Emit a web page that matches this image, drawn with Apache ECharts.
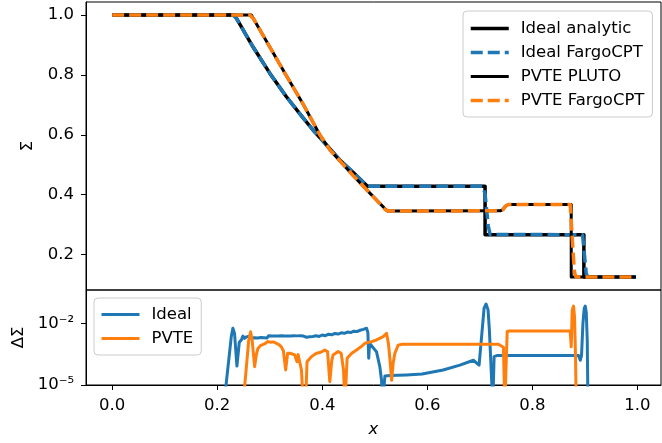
<!DOCTYPE html>
<html>
<head>
<meta charset="utf-8">
<script src="https://cdn.jsdelivr.net/npm/echarts@6/dist/echarts.min.js"></script>
<style>
  html, body { margin: 0; padding: 0; background: #fff; }
  #chart { width: 662px; height: 443px; }
</style>
</head>
<body>
<div id="chart"></div>
<script>
// ---- Upper panel: surface density profiles ----
const idealAnalyticX = [0.0, 0.2331, 0.2680, 0.3000, 0.3317, 0.3600, 0.3824, 0.4100, 0.4333, 0.4600, 0.4860, 0.7099, 0.7099, 0.8980, 0.8980, 0.997];
const idealAnalyticSigma = [1.0, 1.0, 0.894, 0.806, 0.727, 0.664, 0.616, 0.562, 0.516, 0.472, 0.428, 0.428, 0.266, 0.266, 0.125, 0.125];

const idealFargoX = [0.0, 0.2300, 0.2370, 0.2680, 0.3000, 0.3317, 0.3600, 0.3824, 0.4100, 0.4333, 0.4600, 0.4820, 0.4900, 0.7060, 0.7100, 0.7160, 0.7195, 0.8955, 0.8990, 0.9025, 0.9055, 0.997];
const idealFargoSigma = [1.0, 1.0, 0.988, 0.894, 0.806, 0.727, 0.664, 0.616, 0.562, 0.516, 0.472, 0.434, 0.428, 0.428, 0.400, 0.295, 0.267, 0.266, 0.200, 0.135, 0.125, 0.125];

const pvtePlutoX = [0.0, 0.2649, 0.2998, 0.3317, 0.3634, 0.3952, 0.4143, 0.4587, 0.4906, 0.5236, 0.7385, 0.7440, 0.7490, 0.7544, 0.8739, 0.8739, 0.997];
const pvtePlutoSigma = [1.0, 1.0, 0.894, 0.797, 0.703, 0.600, 0.550, 0.464, 0.405, 0.345, 0.346, 0.350, 0.362, 0.367, 0.367, 0.125, 0.125];

const pvteFargoX = [0.0, 0.2620, 0.2690, 0.2998, 0.3317, 0.3634, 0.3952, 0.4143, 0.4587, 0.4906, 0.5200, 0.5270, 0.7385, 0.7440, 0.7490, 0.7544, 0.8720, 0.8760, 0.8800, 0.8830, 0.997];
const pvteFargoSigma = [1.0, 1.0, 0.988, 0.894, 0.797, 0.703, 0.600, 0.550, 0.464, 0.405, 0.350, 0.345, 0.346, 0.350, 0.362, 0.367, 0.367, 0.250, 0.140, 0.125, 0.125];

// ---- Lower panel: absolute deviation from the reference solutions ----
const idealErrX = [
  0.2050, 0.2125, 0.2270, 0.2298, 0.2330, 0.2375, 0.2420, 0.2459, 0.2490, 0.2521, 0.2560,
  0.262, 0.265, 0.268, 0.271, 0.274, 0.277, 0.280, 0.283, 0.286, 0.289,
  0.292, 0.295, 0.298, 0.301, 0.304, 0.307, 0.310, 0.313, 0.316, 0.319,
  0.322, 0.325, 0.328, 0.331, 0.334, 0.337, 0.340, 0.343, 0.346, 0.349,
  0.352, 0.355, 0.358, 0.361, 0.364, 0.367, 0.370, 0.373, 0.376, 0.379,
  0.382, 0.388, 0.394, 0.400, 0.406, 0.412, 0.418, 0.424, 0.430, 0.436,
  0.442, 0.448, 0.454, 0.460, 0.466, 0.472, 0.478,
  0.4843, 0.4868, 0.4884, 0.4900, 0.4938, 0.5033, 0.5096, 0.5128, 0.5147, 0.5165,
  0.5192, 0.5287, 0.5600, 0.5900, 0.6300, 0.6620, 0.6876, 0.6985, 0.7055, 0.7080,
  0.7118, 0.7156, 0.7181, 0.7246, 0.7271, 0.7322, 0.8878, 0.8911, 0.8935, 0.8962,
  0.8987, 0.9006, 0.9025, 0.9044, 0.9058, 0.9150
];
const idealErr = [
  1e-7, 1e-6, 2.5e-3, 5.75e-3, 3.2e-3, 8.3e-5, 1.2e-3, 1.55e-3, 2.4e-3, 1.86e-3, 2.2e-3,
  2.45e-3, 1.95e-3, 2.4e-3, 2.0e-3, 2.5e-3, 1.95e-3, 2.4e-3, 2.05e-3, 2.45e-3, 2.0e-3,
  2.4e-3, 1.95e-3, 2.5e-3, 2.05e-3, 2.4e-3, 2.0e-3, 2.45e-3, 2.0e-3, 2.4e-3, 2.05e-3,
  2.5e-3, 2.0e-3, 2.4e-3, 2.05e-3, 2.45e-3, 2.05e-3, 2.4e-3, 2.1e-3, 2.5e-3, 2.05e-3,
  2.45e-3, 2.1e-3, 2.5e-3, 2.05e-3, 2.4e-3, 2.0e-3, 2.1e-3, 1.9e-3, 2.2e-3, 2.0e-3,
  2.3e-3, 2.5e-3, 2.3e-3, 2.7e-3, 2.5e-3, 2.95e-3, 2.75e-3, 3.2e-3, 3.0e-3, 3.45e-3,
  3.25e-3, 3.75e-3, 3.55e-3, 4.15e-3, 3.95e-3, 4.6e-3, 5.1e-3,
  5.75e-3, 3.5e-3, 2.0e-4, 1.07e-3, 8.7e-4, 4.1e-4, 7.6e-5, 1.7e-5, 1e-6, 1e-6,
  2.75e-5, 2.9e-5, 3.1e-5, 3.4e-5, 5.4e-5, 9.3e-5, 1.6e-4, 9.3e-5, 1.0e-2, 5.4e-2,
  8.7e-2, 4.5e-2, 4.7e-3, 1e-6, 2.4e-4, 2.7e-4, 2.7e-4, 1.6e-4, 2.7e-4, 1.0e-2,
  5.4e-2, 6.9e-2, 3.5e-2, 1.55e-3, 1e-6, 1e-7
];

const pvteErrX = [
  0.2400, 0.2490, 0.2600, 0.2636, 0.2665, 0.2712, 0.2745, 0.2775, 0.2830, 0.2900,
  0.2966, 0.3020, 0.3070, 0.3126, 0.3180, 0.3221, 0.3260, 0.3303, 0.3340, 0.3380,
  0.3430, 0.3475, 0.3519, 0.3540, 0.3557, 0.3603, 0.3640, 0.3680, 0.3710, 0.3794,
  0.3889, 0.3960, 0.4047, 0.4100, 0.4143, 0.4180, 0.4206, 0.4301, 0.4360, 0.4405,
  0.4430, 0.4450, 0.4473, 0.4560, 0.4652, 0.4730, 0.4810, 0.4938, 0.5033, 0.5159,
  0.5224, 0.5260, 0.5290, 0.5320, 0.5350, 0.5382, 0.5445, 0.5520, 0.6500, 0.7353,
  0.7448, 0.7475, 0.7500, 0.7520, 0.7560, 0.8720, 0.8739, 0.8758, 0.8783, 0.8802,
  0.8821, 0.8834, 0.8900
];
const pvteErr = [
  1e-7, 1e-6, 1.5e-3, 3.9e-3, 1.5e-3, 7.8e-5, 3.0e-4, 6.0e-4, 8.5e-4, 1.0e-3,
  1.29e-3, 1.2e-3, 1.25e-3, 1.07e-3, 9.0e-4, 7.2e-4, 4.5e-4, 5.4e-5, 3.5e-4, 3.5e-4,
  3.2e-4, 2.9e-4, 1.35e-4, 3.0e-4, 2.5e-4, 5.4e-5, 1e-6, 1e-6, 1.35e-4, 2.4e-4,
  3.5e-4, 3.8e-4, 5.0e-4, 4.2e-4, 1.45e-5, 1.5e-4, 2.9e-4, 4.2e-4, 3.5e-4, 5.0e-5,
  1e-6, 1e-6, 2.0e-4, 3.5e-4, 5.0e-4, 7.0e-4, 1.07e-3, 1.29e-3, 1.55e-3, 2.24e-3,
  3.24e-3, 1.0e-3, 1.6e-4, 1.7e-5, 1.2e-4, 3.5e-4, 8.7e-4, 9.6e-4, 9.7e-4, 9.6e-4,
  6.8e-4, 1e-6, 1e-6, 4.0e-3, 4.2e-3, 4.2e-3, 7.2e-4, 4.5e-2, 6.9e-2, 2.1e-2,
  2.4e-4, 1e-6, 1e-7
];

// ---- Tick positions ----
const xTicks = [0.0, 0.2, 0.4, 0.6, 0.8, 1.0];
const sigmaTicks = [0.2, 0.4, 0.6, 0.8, 1.0];
const errTicks = [1e-5, 1e-2];
const errTickText = { '-5': '10\u207B\u2075', '-2': '10\u207B\u00B2' };

const pairs = (xs, ys) => xs.map((x, i) => [x, ys[i]]);

const FONT = 'DejaVu Sans';
const FS = 16.5;
const BLUE = '#1f77b4';
const ORANGE = '#ff7f0e';
const X_MIN = -0.0498, X_MAX = 1.0448;

const chart = echarts.init(document.getElementById('chart'), null, { renderer: 'canvas' });

const lineSeries = (name, data, color, width, dashed, xi, yi) => ({
  name, type: 'line', data, xAxisIndex: xi, yAxisIndex: yi,
  symbol: 'none', showSymbol: false, smooth: false, animation: false,
  clip: true,
  lineStyle: { color, width, type: dashed ? [12, 5] : 'solid', join: 'round', cap: 'butt' },
  itemStyle: { color },
  emphasis: { disabled: true }
});

const legendCommon = {
  orient: 'vertical',
  itemWidth: 38,
  itemHeight: 16,
  itemGap: 7,
  backgroundColor: 'rgba(255,255,255,0.8)',
  borderColor: '#cccccc',
  borderWidth: 1,
  borderRadius: 4,
  selectedMode: false,
  itemStyle: { opacity: 0, borderWidth: 0 },
  lineStyle: { width: 'inherit', type: 'inherit' },
  textStyle: { fontFamily: FONT, fontSize: FS, color: '#000', padding: [0, 0, 0, 7] }
};

chart.setOption({
  animation: false,
  backgroundColor: '#fff',
  grid: [
    { left: 86, top: 2, width: 575, height: 288, show: true, borderColor: '#000', borderWidth: 1, backgroundColor: 'transparent' },
    { left: 86, top: 290, width: 575, height: 95, show: true, borderColor: '#000', borderWidth: 1, backgroundColor: 'transparent' }
  ],
  xAxis: [
    {
      gridIndex: 0, type: 'value', min: X_MIN, max: X_MAX,
      axisLine: { show: false }, axisTick: { show: false }, axisLabel: { show: false }, splitLine: { show: false }
    },
    {
      gridIndex: 1, type: 'value', min: X_MIN, max: X_MAX,
      axisLine: { show: true, onZero: false, lineStyle: { color: '#000', width: 1 } },
      axisTick: { show: true, customValues: xTicks, length: 5, lineStyle: { color: '#000', width: 1 } },
      axisLabel: { show: true, customValues: xTicks, formatter: v => v.toFixed(1), fontFamily: FONT, fontSize: FS, color: '#000', margin: 12 },
      splitLine: { show: false },
      name: 'x', nameLocation: 'middle', nameGap: 36,
      nameTextStyle: { fontFamily: FONT, fontSize: FS, fontStyle: 'italic', color: '#000' }
    }
  ],
  yAxis: [
    {
      gridIndex: 0, type: 'value', min: 0.08125, max: 1.04375,
      axisLine: { show: true, onZero: false, lineStyle: { color: '#000', width: 1 } },
      axisTick: { show: true, customValues: sigmaTicks, length: 5, lineStyle: { color: '#000', width: 1 } },
      axisLabel: { show: true, customValues: sigmaTicks, formatter: v => v.toFixed(1), fontFamily: FONT, fontSize: FS, color: '#000', margin: 12 },
      splitLine: { show: false },
      name: '\u03A3', nameLocation: 'middle', nameGap: 50, nameRotate: 90,
      nameTextStyle: { fontFamily: FONT, fontSize: FS, color: '#000' }
    },
    {
      gridIndex: 1, type: 'log', logBase: 10, min: 1e-5, max: 0.417,
      axisLine: { show: true, onZero: false, lineStyle: { color: '#000', width: 1 } },
      axisTick: { show: true, customValues: errTicks, length: 5, lineStyle: { color: '#000', width: 1 } },
      axisLabel: {
        show: true, customValues: errTicks,
        formatter: v => errTickText[String(Math.round(Math.log10(v)))] || '',
        fontFamily: FONT, fontSize: FS, color: '#000', margin: 12
      },
      splitLine: { show: false },
      name: '\u0394\u03A3', nameLocation: 'middle', nameGap: 50, nameRotate: 90,
      nameTextStyle: { fontFamily: FONT, fontSize: FS, color: '#000' }
    }
  ],
  legend: [
    Object.assign({}, legendCommon, {
      left: 463, top: 11, padding: [9, 8, 8, 6],
      data: ['Ideal analytic', 'Ideal FargoCPT', 'PVTE PLUTO', 'PVTE FargoCPT']
    }),
    Object.assign({}, legendCommon, {
      left: 94, top: 298, padding: [8, 8, 8, 6],
      data: ['Ideal', 'PVTE']
    })
  ],
  series: [
    lineSeries('Ideal analytic', pairs(idealAnalyticX, idealAnalyticSigma), '#000', 3.5, false, 0, 0),
    lineSeries('Ideal FargoCPT', pairs(idealFargoX, idealFargoSigma), BLUE, 3.5, true, 0, 0),
    lineSeries('PVTE PLUTO', pairs(pvtePlutoX, pvtePlutoSigma), '#000', 3, false, 0, 0),
    lineSeries('PVTE FargoCPT', pairs(pvteFargoX, pvteFargoSigma), ORANGE, 3.5, true, 0, 0),
    lineSeries('Ideal', pairs(idealErrX, idealErr), BLUE, 3, false, 1, 1),
    lineSeries('PVTE', pairs(pvteErrX, pvteErr), ORANGE, 3, false, 1, 1)
  ]
});
</script>
</body>
</html>
